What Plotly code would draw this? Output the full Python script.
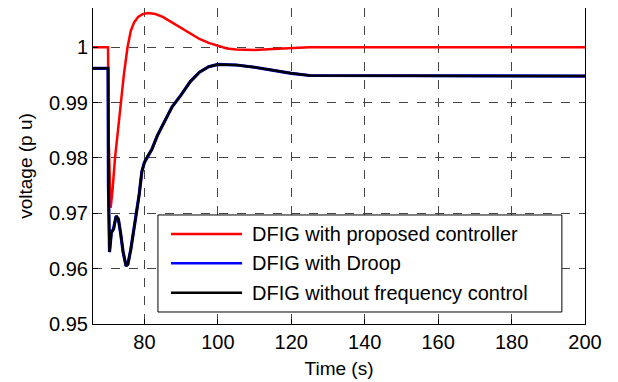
import plotly.graph_objects as go

# time axis (s) and voltages (p.u.)
t_prop = [66, 70.1, 70.2, 70.8, 71.3, 72.0, 72.8, 73.5, 74.4, 75.4, 76.3, 77.2, 78.3, 79.5, 81,
          83, 85, 87.5, 90, 92.5, 95, 97.5, 100, 102.5, 105, 110, 115, 120, 125, 200]
v_prop = [1.0, 1.0, 0.985, 0.971, 0.974, 0.980, 0.985, 0.990, 0.995, 1.0, 1.003, 1.0045, 1.0055, 1.006, 1.0062,
          1.006, 1.0055, 1.0045, 1.0035, 1.0025, 1.0015, 1.0008, 1.0003, 0.9998, 0.9996, 0.9995, 0.9997, 0.9999, 1.0, 1.0]

t_base = [66, 70.1, 70.2, 70.5, 71.0, 71.6, 72.3, 72.9, 73.5, 74.2, 75.0, 75.5, 76.3, 77.0, 77.8, 78.6, 79.3, 80,
          81, 82, 83.5, 85, 87.5, 90, 92.5, 95, 97.5, 100, 105, 110, 115, 120, 125, 200]
v_base = [0.9962, 0.9962, 0.975, 0.963, 0.9665, 0.9672, 0.9695, 0.969, 0.9665, 0.963, 0.9605, 0.9608, 0.9635, 0.967, 0.970, 0.9735, 0.9775, 0.9792,
          0.9805, 0.9815, 0.984, 0.986, 0.9892, 0.9914, 0.9938, 0.9955, 0.9965, 0.9969, 0.9968, 0.9964, 0.9958, 0.9953, 0.9949, 0.9948]

names = ["DFIG with proposed controller", "DFIG with Droop", "DFIG without frequency control"]
colors = ["#ff0000", "#0000ff", "#000000"]

fig = go.Figure()
fig.add_trace(go.Scatter(x=t_prop, y=v_prop, mode="lines", name=names[0],
                         line=dict(color=colors[0], width=2.5)))
fig.add_trace(go.Scatter(x=t_base, y=v_base, mode="lines", name=names[1],
                         line=dict(color=colors[1], width=3.2)))
fig.add_trace(go.Scatter(x=t_base, y=v_base, mode="lines", name=names[2],
                         line=dict(color=colors[2], width=2.5)))

axis_common = dict(showline=True, linecolor="black", linewidth=1, mirror=True,
                   ticks="inside", ticklen=5, tickcolor="black",
                   showgrid=True, gridcolor="#444444", griddash="dash", gridwidth=1,
                   zeroline=False, automargin=False,
                   tickfont=dict(size=20, color="black"))

fig.update_xaxes(range=[66, 200], tickvals=[80, 100, 120, 140, 160, 180, 200],
                 title=dict(text="Time (s)", font=dict(size=19, color="black"), standoff=9),
                 **axis_common)
fig.update_yaxes(range=[0.95, 1.0071], tickvals=[0.95, 0.96, 0.97, 0.98, 0.99, 1.0],
                 ticktext=["0.95", "0.96", "0.97", "0.98", "0.99", "1"],
                 title=dict(text="voltage (p u)", font=dict(size=19, color="black"), standoff=11),
                 **axis_common)

# hand-drawn legend box (MATLAB style, long sample lines)
fig.add_shape(type="rect", xref="paper", yref="paper", x0=0.132, x1=0.953, y0=0.038, y1=0.345,
              line=dict(color="black", width=1), fillcolor="white", layer="above")
for i, (nm, col) in enumerate(zip(names, colors)):
    yy = 0.285 - i * 0.093
    fig.add_shape(type="line", xref="paper", yref="paper", x0=0.1585, x1=0.303, y0=yy, y1=yy,
                  line=dict(color=col, width=2.5), layer="above")
    fig.add_annotation(xref="paper", yref="paper", x=0.319, y=yy, text=nm, showarrow=False,
                       xanchor="left", yanchor="middle", font=dict(size=20, color="black"))

# the page body adds an 8px margin, so the figure is sized to fit the window
fig.update_layout(
    width=610, height=374,
    margin=dict(l=85, r=33, t=0, b=58),
    paper_bgcolor="white", plot_bgcolor="white",
    font=dict(family="Liberation Sans, Arial, sans-serif", color="black"),
    showlegend=False,
)

fig.write_html("out.html")
